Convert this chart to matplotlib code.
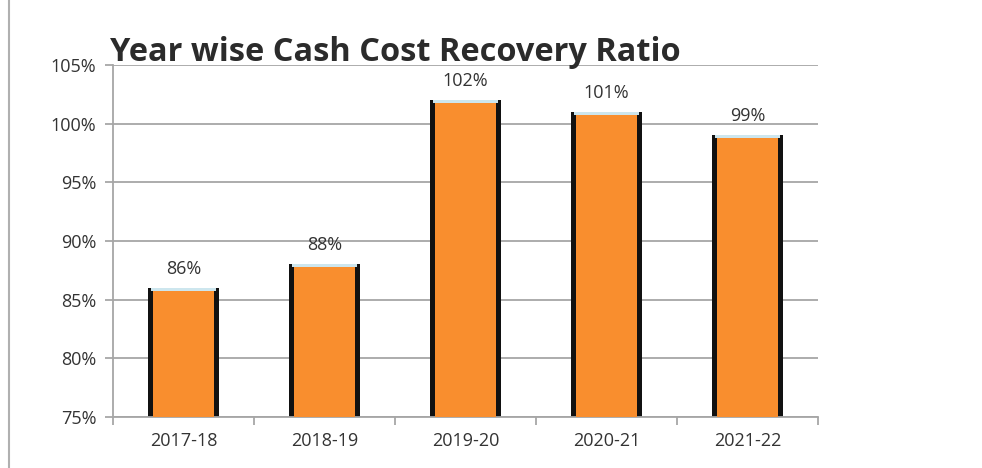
import matplotlib.pyplot as plt
import numpy as np
from matplotlib.lines import Line2D

years = ["2017-18", "2018-19", "2019-20", "2020-21", "2021-22"]
recovery = [86, 88, 102, 101, 99]
y_ticks = [75, 80, 85, 90, 95, 100, 105]


def main():
    plt.rcParams["font.family"] = ["Open Sans", "DejaVu Sans"]
    fig = plt.figure(figsize=(9.82, 4.68), dpi=100)
    ax = fig.add_axes([113 / 982, 1 - 417 / 468, (818 - 113) / 982, (417 - 65) / 468])

    x = np.arange(len(years))
    # dark sides behind the orange face
    ax.bar(x, np.array(recovery) - 75, bottom=75, width=0.5, color="#111111", zorder=2)
    ax.bar(x, np.array(recovery) - 75, bottom=75, width=0.43, color="#F98E2E", zorder=3)
    ax.bar(x, 0.25, bottom=np.array(recovery) - 0.25, width=0.46, color="#CDE6EE", zorder=4)

    for xi, v in zip(x, recovery):
        ax.text(xi, v + 0.85, f"{v}%", ha="center", va="bottom", fontsize=13, color="#333333")

    ax.set_xlim(-0.5, len(years) - 0.5)
    ax.set_ylim(75, 105)
    ax.set_yticks(y_ticks)
    ax.set_yticklabels([f"{t}%" for t in y_ticks], fontsize=13, color="#333333")
    ax.set_xticks(x)
    ax.set_xticklabels(years, fontsize=13, color="#333333")
    ax.set_xticks(np.arange(-0.5, len(years)), minor=True)
    ax.tick_params(axis="x", which="major", length=0, pad=11)
    ax.tick_params(axis="x", which="minor", length=6, color="#A0A0A0", width=1.2)
    ax.tick_params(axis="y", length=6, color="#A0A0A0", width=1.2, pad=6)

    ax.yaxis.grid(True, color="#A6A6A6", linewidth=1.3, zorder=1)
    ax.set_axisbelow(True)
    for side in ["top", "right"]:
        ax.spines[side].set_visible(False)
    for side in ["left", "bottom"]:
        ax.spines[side].set_color("#A6A6A6")
        ax.spines[side].set_linewidth(1.3)

    fig.text(110 / 982, 1 - 61 / 468, "Year wise Cash Cost Recovery Ratio", fontsize=23.4,
             fontweight="bold", color="#2B2B2B", ha="left", va="baseline")
    fig.add_artist(Line2D([9 / 982, 9 / 982], [0, 1], color="#B0B0B0", linewidth=1.5))

    fig.savefig("out.png", dpi=100)


if __name__ == "__main__":
    main()
